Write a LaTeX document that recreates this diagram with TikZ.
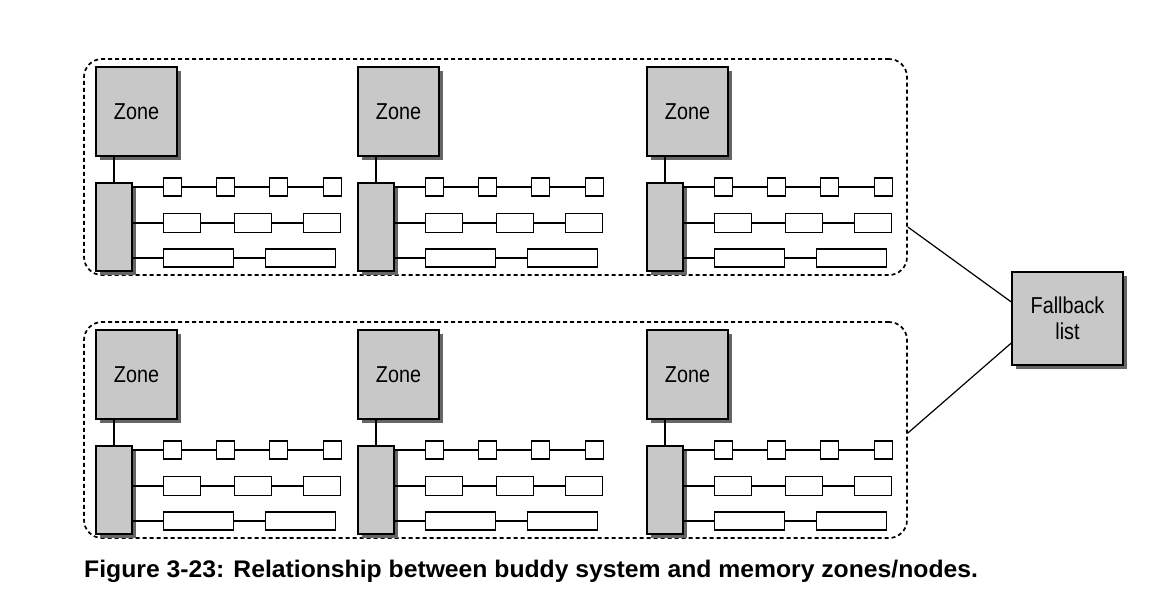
\documentclass[tikz,border=0pt]{standalone}
\usepackage{fontspec}
\setmainfont{Liberation Sans}
\newfontfamily\zonefont[FakeStretch=0.86]{Liberation Sans}
\newfontfamily\capfont[FakeStretch=1.03]{Liberation Sans}
\usetikzlibrary{shadows}
\definecolor{zonegray}{RGB}{200,200,200}

\tikzset{
  grp/.style={draw,dash pattern=on 4pt off 3pt,line width=1.7pt,rounded corners=18pt,inner sep=0pt},
  shade box/.style={draw,line width=1.4pt,fill=zonegray,inner sep=0pt,
    drop shadow={shadow xshift=4pt,shadow yshift=-4pt,fill=black!60,opacity=1}},
  blk/.style={draw,line width=1.2pt,fill=white,inner sep=0pt,minimum height=18pt,anchor=west},
  link/.style={line width=1.2pt}
}

\begin{document}
\begin{tikzpicture}[x=1pt,y=-1pt]
\useasboundingbox (0,0) rectangle (1158,598);
% the two node groups
\foreach \g/\gy in {top/0,bot/263}{
  \node[grp,minimum width=823pt,minimum height=216pt] (grp-\g) at (495.5,167+\gy) {};
  % zones of one node
  \foreach \c/\cx in {a/96,b/358,c/647}{
    \node[shade box,minimum width=81pt,minimum height=89pt,font=\zonefont\fontsize{23}{25}\selectfont]
      (zone-\g\c) at (\cx+40.5,111.5+\gy) {Zone};
    \node[shade box,minimum width=36pt,minimum height=88pt] (bar-\g\c) at (\cx+18,227+\gy) {};
    \draw[link] (bar-\g\c.north) -- (bar-\g\c.north |- zone-\g\c.south);
    % order 0
    \foreach \i/\dx in {1/67,2/120,3/173,4/227}
      \node[blk,minimum width=18pt] (r1-\g\c-\i) at (\cx+\dx,187+\gy) {};
    % order 1
    \foreach \i/\dx in {1/67,2/138,3/207}
      \node[blk,minimum width=37pt,minimum height=19pt] (r2-\g\c-\i) at (\cx+\dx,223+\gy) {};
    % order 2
    \foreach \i/\dx in {1/67,2/169}
      \node[blk,minimum width=70pt] (r3-\g\c-\i) at (\cx+\dx,258+\gy) {};
    \draw[link] (r1-\g\c-1.west -| bar-\g\c.east) -- (r1-\g\c-1) -- (r1-\g\c-2) -- (r1-\g\c-3) -- (r1-\g\c-4);
    \draw[link] (r2-\g\c-1.west -| bar-\g\c.east) -- (r2-\g\c-1) -- (r2-\g\c-2) -- (r2-\g\c-3);
    \draw[link] (r3-\g\c-1.west -| bar-\g\c.east) -- (r3-\g\c-1) -- (r3-\g\c-2);
  }
}
\node[shade box,minimum width=111pt,minimum height=93pt,align=center,
  font=\zonefont\fontsize{23}{26}\selectfont] (fallback) at (1067.5,318.5) {Fallback\\list};
\draw[link] ([yshift=-60pt]grp-top.east) -- ([yshift=16.5pt]fallback.west);
\draw[link] ([yshift=-3pt]grp-bot.east) -- ([yshift=-24.5pt]fallback.west);
\node[anchor=base west,font=\capfont\bfseries\fontsize{24}{27}\selectfont,inner sep=0pt] (caption) at (84,577)
  {Figure 3-23: Relationship between buddy system and memory zones/nodes.};
\end{tikzpicture}
\end{document}
